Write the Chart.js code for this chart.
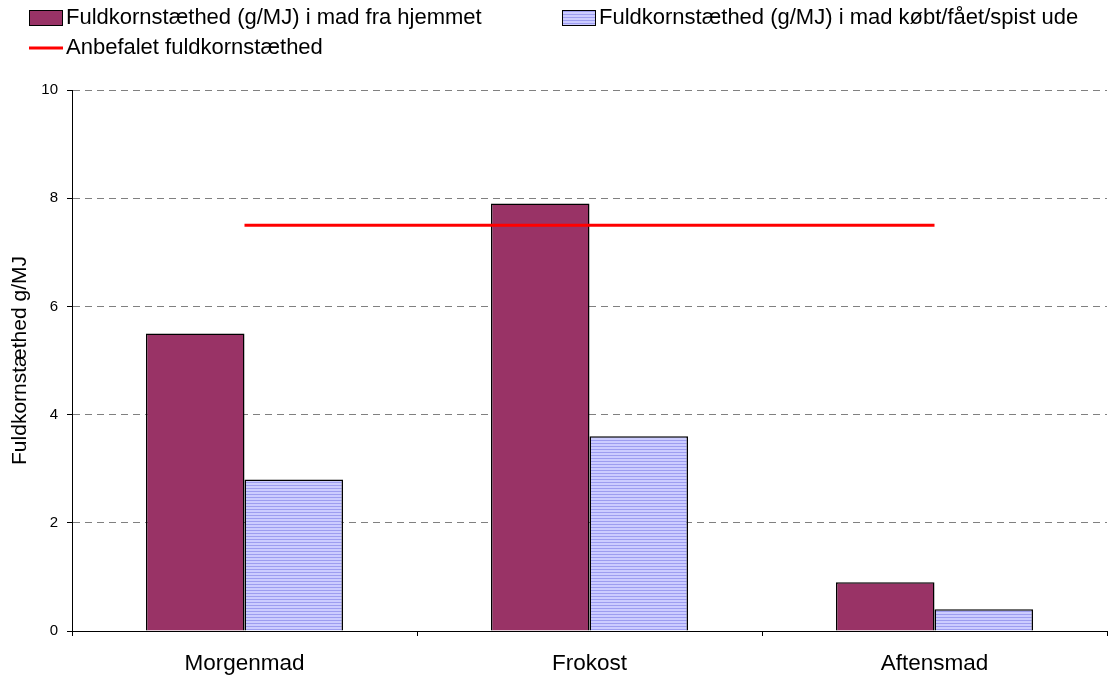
<!DOCTYPE html>
<html>
<head>
<meta charset="utf-8">
<script src="https://cdn.jsdelivr.net/npm/chart.js@4"></script>
<style>
  html, body { margin: 0; padding: 0; background: #fff; }
  #wrap { width: 1108px; height: 679px; }
</style>
</head>
<body>
<div id="wrap"><canvas id="chart" width="1108" height="679"></canvas></div>
<script>
const meals = ['Morgenmad', 'Frokost', 'Aftensmad'];
const homeDensity = [5.5, 7.9, 0.9];
const outDensity = [2.8, 3.6, 0.4];
const recommendedDensity = [7.5, 7.5, 7.5];
const yTicks = [0, 2, 4, 6, 8, 10];

const homeLabel = 'Fuldkornstæthed (g/MJ) i mad fra hjemmet';
const outLabel = 'Fuldkornstæthed (g/MJ) i mad købt/fået/spist ude';
const recLabel = 'Anbefalet fuldkornstæthed';
const yTitle = 'Fuldkornstæthed g/MJ';

const FONT = "'Liberation Sans', Arial, sans-serif";
Chart.defaults.font.family = FONT;
Chart.defaults.color = '#000';

// striped lavender fill for the "ude" bars
function stripes() {
  const c = document.createElement('canvas');
  c.width = 4; c.height = 3;
  const g = c.getContext('2d');
  g.fillStyle = '#ccccff';
  g.fillRect(0, 0, 4, 3);
  g.fillStyle = '#9d9df0';
  g.fillRect(0, 2, 4, 1);
  return g.createPattern(c, 'repeat');
}
const stripeFill = stripes();

// legend laid out in two fixed columns
const sheetLegend = {
  id: 'sheetLegend',
  afterDraw(chart) {
    const ctx = chart.ctx;
    const items = [
      {x: 29, y: 18, kind: 'box', fill: '#993366', text: homeLabel},
      {x: 562, y: 18, kind: 'box', fill: stripeFill, text: outLabel},
      {x: 29, y: 48, kind: 'line', text: recLabel}
    ];
    ctx.save();
    ctx.font = '22px ' + FONT;
    ctx.textBaseline = 'middle';
    items.forEach(it => {
      if (it.kind === 'box') {
        ctx.fillStyle = it.fill;
        ctx.fillRect(it.x, it.y - 8, 34, 16);
        ctx.strokeStyle = '#000';
        ctx.lineWidth = 1;
        ctx.strokeRect(it.x + 0.5, it.y - 7.5, 33, 15);
      } else {
        ctx.strokeStyle = '#ff0000';
        ctx.lineWidth = 3;
        ctx.beginPath();
        ctx.moveTo(it.x, it.y);
        ctx.lineTo(it.x + 34, it.y);
        ctx.stroke();
      }
      ctx.fillStyle = '#000';
      ctx.fillText(it.text, it.x + 37, it.y);
    });
    ctx.restore();
  }
};

new Chart(document.getElementById('chart'), {
  type: 'bar',
  data: {
    labels: meals,
    datasets: [
      {
        type: 'line',
        label: recLabel,
        data: recommendedDensity,
        borderColor: '#ff0000',
        borderWidth: 3,
        pointRadius: 0,
        fill: false,
        order: 0
      },
      {
        label: homeLabel,
        data: homeDensity,
        backgroundColor: '#993366',
        borderColor: '#000',
        borderWidth: 1.5,
        categoryPercentage: 0.571,
        barPercentage: 1,
        order: 1
      },
      {
        label: outLabel,
        data: outDensity,
        backgroundColor: stripeFill,
        borderColor: '#000',
        borderWidth: 1.5,
        categoryPercentage: 0.571,
        barPercentage: 1,
        order: 1
      }
    ]
  },
  options: {
    responsive: false,
    animation: false,
    layout: { padding: { top: 90, right: 1, left: 0, bottom: 0 } },
    plugins: {
      legend: { display: false },
      tooltip: { enabled: false }
    },
    scales: {
      x: {
        afterFit: s => { s.height = 48; },
        grid: {
          offset: true,
          drawOnChartArea: false,
          tickLength: 5,
          color: '#000'
        },
        border: { color: '#000', width: 1 },
        ticks: { font: { size: 22.5 }, padding: 14 }
      },
      y: {
        min: 0,
        max: 10,
        afterFit: s => { s.width = 72; },
        afterBuildTicks: s => { s.ticks = yTicks.map(v => ({value: v})); },
        grid: {
          color: '#808080',
          tickColor: '#000',
          tickLength: 5,
          tickBorderDash: []
        },
        border: { color: '#000', width: 1, dash: [7, 5] },
        ticks: { font: { size: 15 }, padding: 9 },
        title: {
          display: true,
          text: yTitle,
          font: { size: 21 },
          padding: { top: 8, bottom: 0 }
        }
      }
    }
  },
  plugins: [sheetLegend]
});
</script>
</body>
</html>
